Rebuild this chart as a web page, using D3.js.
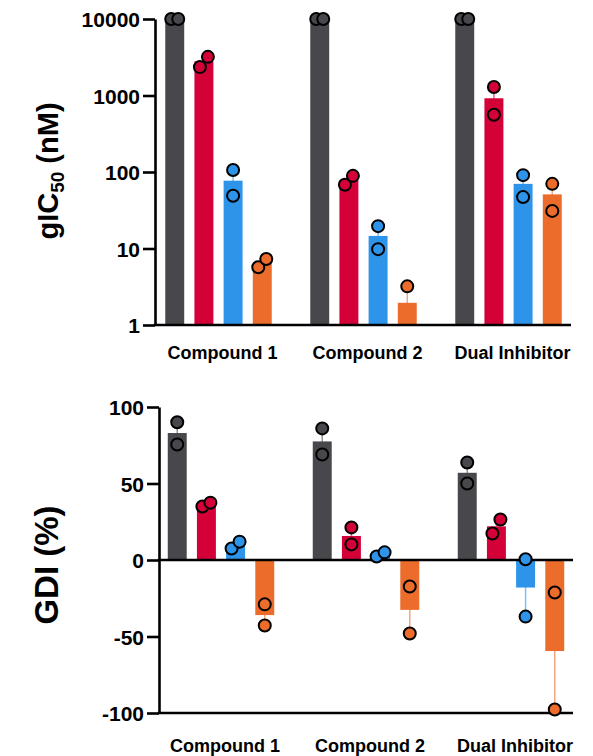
<!DOCTYPE html>
<html>
<head>
<meta charset="utf-8">
<script src="https://cdn.jsdelivr.net/npm/d3@7"></script>
<style>
  body { margin: 0; background: #fff; }
  text { font-family: "Liberation Sans", Arial, sans-serif; font-weight: bold; fill: #000; }
</style>
</head>
<body>
<script>
const WIDTH = 593;
const HEIGHT = 756;

var groups = ['Compound 1', 'Compound 2', 'Dual Inhibitor'];
var series = ['s1', 's2', 's3', 's4'];
var colors = ['#48484c', '#d40038', '#2d94ea', '#eb6c2b'];

// gIC50 (nM) - bar means and the two replicates
var icMeans = [
    [10000, 2800, 77, 6.5],
    [10000, 78, 14.6, 1.95],
    [10000, 920, 70, 51]
];
var icReps = [
    [[10000, 10000], [2350, 3200], [106, 49], [5.7, 7.3]],
    [[10000, 10000], [68, 89], [19.6, 9.8], [3.2, 0.7]],
    [[10000, 10000], [1290, 560], [91, 47], [70, 31]]
];
var icTicks = [1, 10, 100, 1000, 10000];

// GDI (%)
var gdiMeans = [
    [83, 36.3, 9.8, -36],
    [77.5, 15.7, 3.6, -32.6],
    [57, 22, -18, -59.5]
];
var gdiReps = [
    [[90, 75.5], [35, 37.5], [7.5, 12], [-29, -42.8]],
    [[86, 69], [21.3, 10.2], [2.3, 5], [-17.3, -48]],
    [[63.7, 50], [26.5, 17.3], [0.5, -37], [-21.2, -97.7]]
];
var gdiTicks = [-100, -50, 0, 50, 100];

var svg = d3.select('body')
    .append('svg')
    .attr('width', WIDTH)
    .attr('height', HEIGHT);

function sem(r) {
    return Math.abs(r[0] - r[1]) / 2;
}

function drawPanel(opt) {
    var g = svg.append('g');
    var y = opt.y;
    var x0 = d3.scaleBand()
        .domain(groups)
        .range(opt.xRange);
    var x1 = d3.scaleBand()
        .domain(series)
        .range([0, x0.bandwidth()])
        .paddingInner(0.35)
        .paddingOuter(0.66);

    var rows = [];
    groups.forEach(function(grp, i) {
        series.forEach(function(s, j) {
            rows.push({
                grp: grp,
                s: s,
                j: j,
                mean: opt.means[i][j],
                reps: opt.reps[i][j],
                cx: x0(grp) + x1(s) + x1.bandwidth() / 2
            });
        });
    });

    var clipId = 'clip' + opt.id;
    g.append('clipPath').attr('id', clipId)
        .append('rect')
        .attr('x', opt.axisX)
        .attr('y', opt.clipTop)
        .attr('width', opt.axisEnd - opt.axisX)
        .attr('height', opt.clipBottom - opt.clipTop);

    // error bars
    g.append('g').attr('clip-path', 'url(#' + clipId + ')')
        .selectAll('line')
        .data(rows)
        .enter()
        .append('line')
        .attr('x1', function(d) { return d.cx; })
        .attr('x2', function(d) { return d.cx; })
        .attr('y1', function(d) { return y(Math.max(opt.yMin, d.mean - sem(d.reps))); })
        .attr('y2', function(d) { return y(d.mean + sem(d.reps)); })
        .attr('stroke', function(d) { return colors[d.j]; })
        .attr('stroke-opacity', 0.6)
        .attr('stroke-width', 1.5);

    // bars
    g.append('g')
        .selectAll('rect')
        .data(rows)
        .enter()
        .append('rect')
        .attr('x', function(d) { return x0(d.grp) + x1(d.s); })
        .attr('width', x1.bandwidth())
        .attr('y', function(d) { return Math.min(y(d.mean), y(opt.base)); })
        .attr('height', function(d) { return Math.abs(y(d.mean) - y(opt.base)); })
        .attr('fill', function(d) { return colors[d.j]; });

    // axes
    var yAxis = d3.axisLeft(y)
        .tickValues(opt.ticks)
        .tickFormat(function(d) { return String(d); })
        .tickSize(12)
        .tickSizeOuter(0)
        .tickPadding(3);
    var ya = g.append('g')
        .attr('transform', 'translate(' + opt.axisX + ',0)')
        .call(yAxis);
    ya.select('.domain').attr('stroke-width', 2.6);
    ya.selectAll('.tick line').attr('stroke-width', 2.6);
    ya.selectAll('.tick text')
        .attr('font-size', 21)
        .attr('font-family', '"Liberation Sans", Arial, sans-serif')
        .attr('font-weight', 'bold')
        .attr('dy', '0.36em');

    opt.hLines.forEach(function(v) {
        g.append('line')
            .attr('x1', opt.axisX - 1.3)
            .attr('x2', opt.axisEnd)
            .attr('y1', y(v))
            .attr('y2', y(v))
            .attr('stroke', '#000')
            .attr('stroke-width', 2.6);
    });

    // replicate points
    var pts = [];
    rows.forEach(function(d) {
        var py = d.reps.map(function(v) { return v >= opt.yMin ? y(v) : null; });
        var dx = [0, 0];
        if (py[0] !== null && py[1] !== null && Math.abs(py[0] - py[1]) < 15) {
            // the higher point goes right
            if (py[0] < py[1]) { dx = [4, -4]; } else if (py[0] > py[1]) { dx = [-4, 4]; } else { dx = [-3.5, 3.5]; }
        }
        py.forEach(function(v, k) {
            if (v !== null) {
                pts.push({ x: d.cx + dx[k], y: v, j: d.j });
            }
        });
    });
    g.append('g')
        .selectAll('circle')
        .data(pts)
        .enter()
        .append('circle')
        .attr('cx', function(d) { return d.x; })
        .attr('cy', function(d) { return d.y; })
        .attr('r', 6)
        .attr('fill', function(d) { return colors[d.j]; })
        .attr('stroke', '#000')
        .attr('stroke-width', 2);

    // group labels
    g.append('g')
        .selectAll('text')
        .data(groups)
        .enter()
        .append('text')
        .attr('x', function(d) { return x0(d) + x0.bandwidth() / 2 + 4; })
        .attr('y', opt.labelY)
        .attr('text-anchor', 'middle')
        .attr('font-size', 18)
        .text(function(d) { return d; });
}

var yTop = d3.scaleLog().domain([1, 10000]).range([325, 19]);
drawPanel({
    id: 'top',
    y: yTop,
    yMin: 1,
    base: 1,
    means: icMeans,
    reps: icReps,
    ticks: icTicks,
    xRange: [146, 581],
    axisX: 155,
    axisEnd: 571,
    clipTop: 0,
    clipBottom: 325,
    hLines: [1],
    labelY: 359
});

var yBot = d3.scaleLinear().domain([-100, 100]).range([713, 407]);
drawPanel({
    id: 'bot',
    y: yBot,
    yMin: -100,
    base: 0,
    means: gdiMeans,
    reps: gdiReps,
    ticks: gdiTicks,
    xRange: [148.5, 583.5],
    axisX: 159,
    axisEnd: 573,
    clipTop: 0,
    clipBottom: 713,
    hLines: [0, -100],
    labelY: 752
});

// axis titles
var t1 = svg.append('text')
    .attr('transform', 'translate(58,171) rotate(-90)')
    .attr('text-anchor', 'middle')
    .attr('font-size', 29);
t1.append('tspan').text('gIC');
t1.append('tspan').attr('font-size', 19).attr('dy', 6).text('50');
t1.append('tspan').attr('dy', -6).text(' (nM)');

svg.append('text')
    .attr('transform', 'translate(58,565) rotate(-90)')
    .attr('text-anchor', 'middle')
    .attr('font-size', 33)
    .text('GDI (%)');
</script>
</body>
</html>
